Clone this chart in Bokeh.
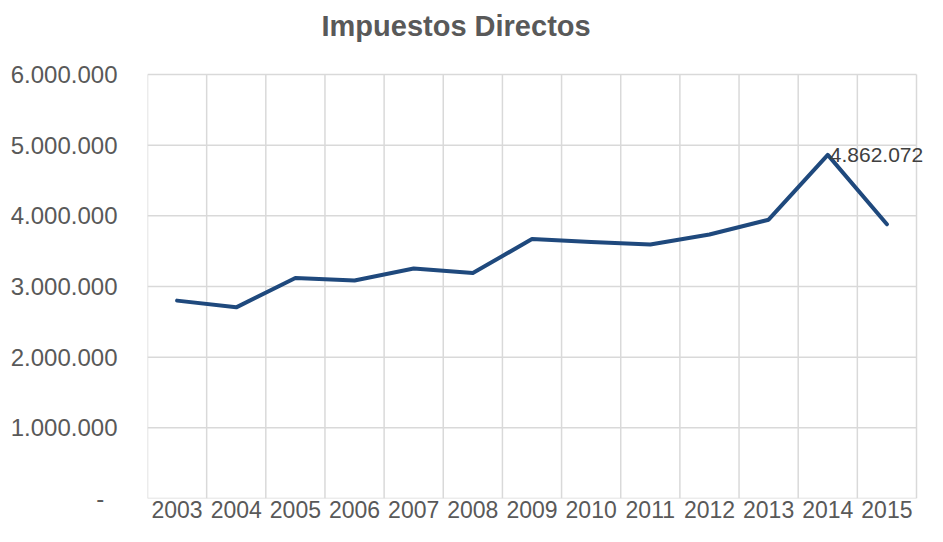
from bokeh.plotting import figure
from bokeh.models import Range1d, FixedTicker, Label, ColumnDataSource
from bokeh.embed import file_html
from bokeh.resources import INLINE

years = ["2003", "2004", "2005", "2006", "2007", "2008", "2009",
         "2010", "2011", "2012", "2013", "2014", "2015"]
impuestos = [2800000, 2705000, 3120000, 3085000, 3255000, 3190000, 3672000,
             3630000, 3595000, 3735000, 3945000, 4862072, 3880000]
y_ticks = [0, 1000000, 2000000, 3000000, 4000000, 5000000, 6000000]
y_tick_labels = ["-\u00a0\u00a0", "1.000.000", "2.000.000", "3.000.000",
                 "4.000.000", "5.000.000", "6.000.000"]
title_text = "Impuestos Directos"
peak_label = "4.862.072"
peak_index = 11

FONT = "Liberation Sans"
GRID = "#D9D9D9"
W, H = 927, 526
xs = list(range(len(years)))
x_lo, x_hi = -0.5, len(years) - 0.5

# layout (pixels): plot frame and where the category/value grid sits inside it
frame_left, grid_right = 147, 916
frame_top, grid_top, frame_bottom = 47, 74, 498
px_per_cat = (grid_right - frame_left) / (x_hi - x_lo)
x_end = x_hi + (W - grid_right) / px_per_cat
y_end = y_ticks[-1] * (frame_bottom - frame_top) / (frame_bottom - grid_top)

p = figure(width=W, height=H, output_backend="svg", toolbar_location=None,
           x_range=Range1d(x_lo, x_end),
           y_range=Range1d(y_ticks[0], y_end),
           min_border_left=frame_left, min_border_right=0,
           min_border_top=frame_top, min_border_bottom=H - frame_bottom)

p.title.text = title_text
p.title.text_font = FONT
p.title.text_font_size = "29px"
p.title.text_font_style = "bold"
p.title.text_color = "#595959"
p.title.align = "left"
p.title.offset = 174
p.title.standoff = 12

p.outline_line_color = None
p.background_fill_color = "white"
p.border_fill_color = "white"

# x axis
p.xaxis.ticker = FixedTicker(ticks=xs)
p.xaxis.major_label_overrides = {i: y for i, y in zip(xs, years)}
p.xaxis.axis_line_color = None
p.xaxis.major_tick_line_color = None
p.xaxis.minor_tick_line_color = None
p.xaxis.major_tick_out = 0
p.xaxis.major_tick_in = 0
p.xaxis.major_label_text_font = FONT
p.xaxis.major_label_text_font_size = "23px"
p.xaxis.major_label_text_color = "#595959"
p.xaxis.major_label_standoff = 2

# y axis
p.yaxis.ticker = FixedTicker(ticks=y_ticks)
p.yaxis.major_label_overrides = {t: l for t, l in zip(y_ticks, y_tick_labels)}
p.yaxis.axis_line_color = None
p.yaxis.major_tick_line_color = None
p.yaxis.minor_tick_line_color = None
p.yaxis.major_tick_out = 0
p.yaxis.major_tick_in = 0
p.yaxis.major_label_text_font = FONT
p.yaxis.major_label_text_font_size = "24px"
p.yaxis.major_label_text_color = "#595959"
p.yaxis.major_label_standoff = 30

# grid: vertical lines at category boundaries, horizontal lines at value ticks
p.xgrid.grid_line_color = None
p.ygrid.grid_line_color = None
bounds = [i - 0.5 for i in range(len(years) + 1)]
p.segment(x0=bounds, x1=bounds, y0=[y_ticks[0]] * len(bounds),
          y1=[y_ticks[-1]] * len(bounds), line_color=GRID, line_width=1.5)
p.segment(x0=[x_lo] * len(y_ticks), x1=[x_hi] * len(y_ticks),
          y0=y_ticks, y1=y_ticks, line_color=GRID, line_width=1.5)

src = ColumnDataSource(dict(x=xs, y=impuestos))
p.line("x", "y", source=src, line_color="#1F497D", line_width=4,
       line_join="round", line_cap="round")

lab = Label(x=xs[peak_index], y=impuestos[peak_index], text=peak_label,
            x_offset=2, text_baseline="middle", text_align="left",
            text_font=FONT, text_font_size="21px", text_color="#404040")
p.add_layout(lab)

open("out.html", "w").write(file_html(p, INLINE))
